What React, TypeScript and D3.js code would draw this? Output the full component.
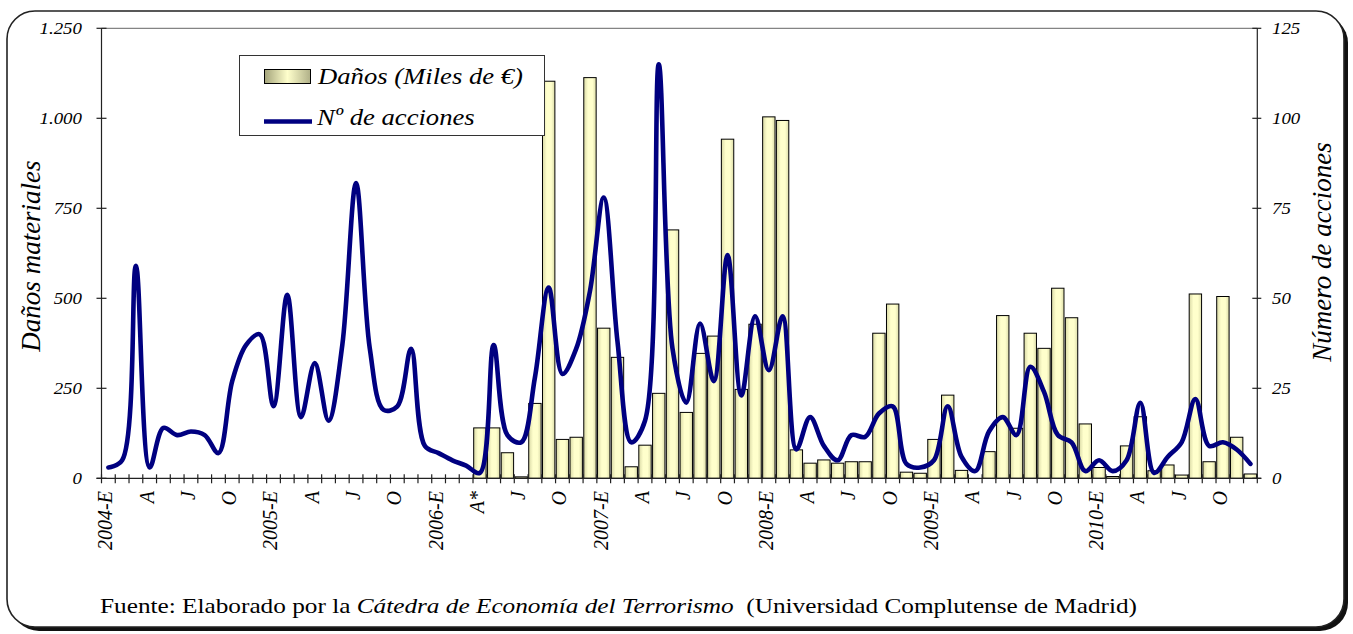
import React, { useEffect, useRef } from 'react';
import * as d3 from 'd3';

// meses: enero 2004 .. diciembre 2010
const years = [2004, 2005, 2006, 2007, 2008, 2009, 2010];
const quarterLabels = ['E', 'A', 'J', 'O'];

// Nº de acciones, mensual
const acciones = [
  3, 5, 59, 3, 14, 12, 13, 12, 7, 27, 37, 40, // 2004
  20, 51, 17, 32, 16, 37, 82, 36, 19, 20, 36, 9, // 2005
  7, 5, 3.5, 1.5, 37, 12, 10, 28, 53, 29, 36, 52, // 2006
  78, 38, 10, 16, 115, 36, 21, 43, 27, 62, 23, 45, // 2007
  30, 45, 8, 17, 9, 5, 12, 11.5, 18, 20, 4, 3, // 2008
  5, 20, 6, 2, 13, 17, 12, 31, 24, 12, 10, 2, // 2009
  5, 2, 5, 21, 1.5, 6, 10, 22, 9, 10, 8, 4, // 2010
];

// Daños (miles de €), desde abril 2006 (A*)
const danosStart = 27;
const danos = [
  140, 140, 71, 4, 208, 1103, 108, 114, 1113, // 2006 abr-dic
  417, 336, 32, 92, 236, 690, 183, 347, 395, 942, 247, 428, // 2007
  1004, 994, 79, 42, 51, 42, 46, 46, 403, 484, 17, 14, // 2008
  108, 231, 22, 0, 74, 452, 139, 403, 361, 528, 446, 151, // 2009
  30, 5, 90, 171, 21, 37, 9, 512, 46, 505, 114, 12, // 2010
];

const leftTicks = [0, 250, 500, 750, 1000, 1250];
const rightTicks = [0, 25, 50, 75, 100, 125];

const FONT = "'Liberation Serif', 'Times New Roman', serif";
const STRETCH = 1.11; // the original is a bit wider than tall

const App = () => {
  const ref = useRef<SVGSVGElement>(null);

  useEffect(() => {
    if (!ref.current) return;
    const W = 1353;
    const H = 634;
    const x0 = 101.5;
    const x1 = 1257.3;
    const yTop = 28.3;
    const yBot = 478.3;
    const nMonths = years.length * 12;
    const months = d3.range(nMonths);

    const svg = d3.select(ref.current);
    svg.selectAll('*').remove();
    svg.attr('width', W).attr('height', H).attr('viewBox', `0 0 ${W} ${H}`);

    const stretch = (sel: any) =>
      sel.each(function (this: SVGTextElement) {
        const l = this.getComputedTextLength();
        d3.select(this).attr('textLength', l * STRETCH).attr('lengthAdjust', 'spacingAndGlyphs');
      });

    const defs = svg.append('defs');
    const grad = defs.append('linearGradient').attr('id', 'barFill').attr('x1', '0%').attr('x2', '100%');
    grad.append('stop').attr('offset', '0%').attr('stop-color', '#d9d9a6');
    grad.append('stop').attr('offset', '35%').attr('stop-color', '#ffffcc');
    grad.append('stop').attr('offset', '70%').attr('stop-color', '#ffffcc');
    grad.append('stop').attr('offset', '100%').attr('stop-color', '#dcdcaa');
    const grad2 = defs.append('linearGradient').attr('id', 'legFill').attr('x1', '0%').attr('x2', '100%');
    grad2.append('stop').attr('offset', '0%').attr('stop-color', '#a3a37a');
    grad2.append('stop').attr('offset', '50%').attr('stop-color', '#ffffcc');
    grad2.append('stop').attr('offset', '100%').attr('stop-color', '#b0b088');

    // marco redondeado con sombra
    svg.append('rect').attr('x', 11).attr('y', 15).attr('width', 1337).attr('height', 616)
      .attr('rx', 28).attr('fill', '#111');
    svg.append('rect').attr('x', 7).attr('y', 11).attr('width', 1337).attr('height', 616)
      .attr('rx', 28).attr('fill', '#fff').attr('stroke', '#222').attr('stroke-width', 1.6);

    const xEdge = d3.scaleLinear().domain([0, nMonths]).range([x0, x1]);
    const x = d3.scaleBand<number>().domain(months).range([x0, x1]).paddingInner(0.1).paddingOuter(0.05);
    const yL = d3.scaleLinear().domain([0, 1250]).range([yBot, yTop]);
    const yR = d3.scaleLinear().domain([0, 125]).range([yBot, yTop]);
    const fmt = d3.formatLocale({ decimal: ',', thousands: '.', grouping: [3], currency: ['', '€'] }).format(',d');

    // borde superior del área de trazado
    svg.append('line').attr('x1', x0).attr('x2', x1).attr('y1', yTop).attr('y2', yTop)
      .attr('stroke', '#666').attr('stroke-width', 1);

    // barras
    const barData = danos.map((v, i) => ({ m: danosStart + i, v }));
    svg.append('g').selectAll('rect').data(barData.filter(d => d.v > 0)).join('rect')
      .attr('x', d => x(d.m)!)
      .attr('y', d => yL(d.v))
      .attr('width', x.bandwidth())
      .attr('height', d => yBot - yL(d.v))
      .attr('fill', 'url(#barFill)')
      .attr('stroke', '#000')
      .attr('stroke-width', 1);

    // ejes
    const axisG = svg.append('g').attr('stroke', '#222').attr('stroke-width', 1.2);
    axisG.append('line').attr('x1', x0).attr('x2', x0).attr('y1', yTop).attr('y2', yBot);
    axisG.append('line').attr('x1', x1).attr('x2', x1).attr('y1', yTop).attr('y2', yBot);
    axisG.append('line').attr('x1', x0 - 5).attr('x2', x1 + 4).attr('y1', yBot).attr('y2', yBot);
    axisG.selectAll('.tl').data(leftTicks).join('line')
      .attr('x1', x0 - 5).attr('x2', x0 + 5).attr('y1', d => yL(d)).attr('y2', d => yL(d));
    axisG.selectAll('.tr').data(rightTicks).join('line')
      .attr('x1', x1 - 5).attr('x2', x1 + 4).attr('y1', d => yR(d)).attr('y2', d => yR(d));
    axisG.selectAll('.tx').data(d3.range(nMonths + 1)).join('line')
      .attr('x1', d => xEdge(d)).attr('x2', d => xEdge(d)).attr('y1', yBot - 4).attr('y2', yBot + 5);

    svg.append('g').selectAll('text').data(leftTicks).join('text')
      .attr('x', 82).attr('y', d => yL(d)).attr('dy', '0.34em')
      .attr('text-anchor', 'end').attr('font-family', FONT).attr('font-style', 'italic')
      .attr('font-size', 17).text(d => fmt(d)).call(stretch);

    svg.append('g').selectAll('text').data(rightTicks).join('text')
      .attr('x', 1272).attr('y', d => yR(d)).attr('dy', '0.34em')
      .attr('font-family', FONT).attr('font-style', 'italic')
      .attr('font-size', 17).text(d => fmt(d)).call(stretch);

    // etiquetas de meses (trimestrales)
    const labelMonths = months.filter(m => m % 3 === 0);
    svg.append('g').selectAll('text').data(labelMonths).join('text')
      .attr('transform', d => `translate(${x(d)! + x.bandwidth() / 2 + 4},491) rotate(-90)`)
      .attr('text-anchor', 'end').attr('font-family', FONT).attr('font-style', 'italic')
      .attr('font-size', 20)
      .text(d => d % 12 === 0 ? `${years[d / 12]}-E` : d === danosStart ? 'A*' : quarterLabels[(d % 12) / 3]);

    // línea suavizada
    const line = d3.line<number>()
      .x((_, i) => x(i)! + x.bandwidth() / 2)
      .y(d => yR(d))
      .curve(d3.curveCatmullRom.alpha(0.5));
    svg.append('path').datum(acciones).attr('d', line)
      .attr('fill', 'none').attr('stroke', '#000080').attr('stroke-width', 4.6)
      .attr('stroke-linejoin', 'round').attr('stroke-linecap', 'round');

    // títulos de ejes
    svg.append('text').attr('transform', 'translate(40,256) rotate(-90)')
      .attr('text-anchor', 'middle').attr('font-family', FONT).attr('font-style', 'italic')
      .attr('font-size', 27).text('Daños materiales');
    svg.append('text').attr('transform', 'translate(1331,252) rotate(-90)')
      .attr('text-anchor', 'middle').attr('font-family', FONT).attr('font-style', 'italic')
      .attr('font-size', 27).text('Número de acciones');

    // leyenda
    const leg = svg.append('g');
    leg.append('rect').attr('x', 239.5).attr('y', 55.5).attr('width', 305).attr('height', 80)
      .attr('fill', '#fff').attr('stroke', '#333').attr('stroke-width', 1);
    leg.append('rect').attr('x', 264.5).attr('y', 69.5).attr('width', 46).attr('height', 14)
      .attr('fill', 'url(#legFill)').attr('stroke', '#000').attr('stroke-width', 1);
    leg.append('line').attr('x1', 264).attr('x2', 312).attr('y1', 121.5).attr('y2', 121.5)
      .attr('stroke', '#000080').attr('stroke-width', 4.6);
    leg.append('text').attr('x', 318).attr('y', 84).attr('font-family', FONT).attr('font-style', 'italic')
      .attr('font-size', 24).text('Daños (Miles de €)').call(stretch);
    leg.append('text').attr('x', 317).attr('y', 125).attr('font-family', FONT).attr('font-style', 'italic')
      .attr('font-size', 24).text('Nº de acciones').call(stretch);

    // fuente
    const foot = svg.append('text').attr('x', 100).attr('y', 613).attr('font-family', FONT).attr('font-size', 22)
      .attr('textLength', 1037).attr('lengthAdjust', 'spacingAndGlyphs');
    foot.append('tspan').text('Fuente: Elaborado por la ');
    foot.append('tspan').attr('font-style', 'italic').text('Cátedra de Economía del Terrorismo');
    foot.append('tspan').text('\u00a0 (Universidad Complutense de Madrid)');
  }, []);

  return <svg ref={ref} style={{ position: 'absolute', left: 0, top: 0, background: '#fff' }} />;
};

export default App;
